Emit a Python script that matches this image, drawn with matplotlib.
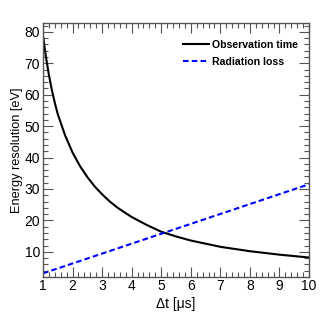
import matplotlib
matplotlib.use("Agg")
import matplotlib.pyplot as plt
from matplotlib.ticker import MultipleLocator

plt.rcParams['font.family'] = ['Liberation Sans', 'DejaVu Sans']

# observation time curve
t_obs = [1.0, 1.1, 1.2, 1.3, 1.4, 1.5, 1.75, 2.0, 2.25, 2.5, 2.75, 3.0,
         3.25, 3.5, 3.75, 4.0, 4.5, 5.0, 5.5, 6.0, 7.0, 8.0, 9.0, 10.0]
res_obs = [78.8, 72.0, 66.3, 61.5, 57.4, 53.8, 47.0, 41.6, 37.3, 33.8, 30.8,
           28.3, 26.1, 24.2, 22.6, 21.1, 18.6, 16.4, 14.9, 13.6, 11.6, 10.2,
           9.1, 8.2]

# radiation loss line
t_rad = [1.0, 10.0]
res_rad = [3.15, 31.5]

fig = plt.figure(figsize=(3.32, 3.19), dpi=100)
ax = fig.add_axes([0.1295, 0.1317, 0.8012, 0.7971])

ax.plot(t_obs, res_obs, color='black', lw=1.5, label='Observation time')
ax.plot(t_rad, res_rad, color='blue', lw=1.5, ls=(0, (2.7, 1.5)),
        label='Radiation loss')

ax.set_xlim(1, 10)
ax.set_ylim(2, 82.9)
ax.xaxis.set_major_locator(MultipleLocator(1))
ax.xaxis.set_minor_locator(MultipleLocator(0.2))
ax.yaxis.set_major_locator(MultipleLocator(10))
ax.yaxis.set_minor_locator(MultipleLocator(2))
ax.tick_params(which='both', direction='in', top=True, right=True,
               labelsize=10, color='#555555')
ax.tick_params(which='major', length=7, width=0.8)
ax.tick_params(which='minor', length=3.5, width=0.8)
ax.tick_params(axis='x', pad=1.5)
ax.tick_params(axis='y', pad=2)
for s in ax.spines.values():
    s.set_color('#555555')
    s.set_linewidth(1.0)

ax.set_xlabel('Δt [μs]', fontsize=10, labelpad=2.5)
ax.set_ylabel('Energy resolution [eV]', fontsize=9.2)
ax.yaxis.set_label_coords(-0.075, 0.5)

ax.legend(loc='upper right', frameon=False, handlelength=2.4,
          handletextpad=0.35, prop={'weight': 'bold', 'size': 7.6},
          labelspacing=0.7, borderaxespad=0, borderpad=0,
          bbox_to_anchor=(0.959, 0.933))

fig.savefig('out.png', dpi=100)
